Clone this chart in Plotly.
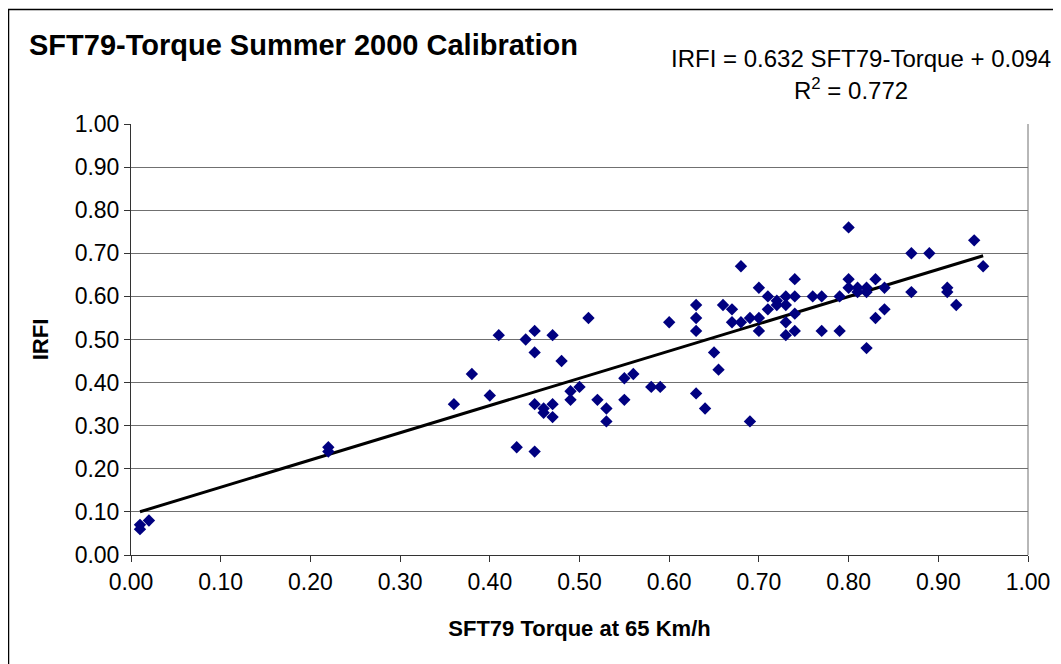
import plotly.graph_objects as go

# SFT79 torque (x) vs IRFI (y)
torque = [
    0.01, 0.01, 0.02, 0.22, 0.22,
    0.36, 0.38, 0.40, 0.41, 0.43, 0.44, 0.45, 0.45, 0.45, 0.45,
    0.46, 0.46, 0.47, 0.47, 0.47, 0.48, 0.49, 0.49, 0.50, 0.51,
    0.52, 0.53, 0.53, 0.55, 0.55, 0.56, 0.58, 0.59, 0.60,
    0.63, 0.63, 0.63, 0.63, 0.64, 0.65, 0.655, 0.66, 0.67, 0.67,
    0.68, 0.68, 0.69, 0.69, 0.70, 0.70, 0.70, 0.71, 0.71, 0.72, 0.72,
    0.73, 0.73, 0.73, 0.73, 0.74, 0.74, 0.74, 0.74,
    0.76, 0.77, 0.77, 0.79, 0.79, 0.80, 0.80, 0.80,
    0.81, 0.81, 0.82, 0.82, 0.82, 0.83, 0.83, 0.84, 0.84,
    0.87, 0.87, 0.89, 0.91, 0.91, 0.92, 0.94, 0.95,
]
irfi = [
    0.06, 0.07, 0.08, 0.25, 0.24,
    0.35, 0.42, 0.37, 0.51, 0.25, 0.50, 0.52, 0.47, 0.35, 0.24,
    0.34, 0.33, 0.51, 0.35, 0.32, 0.45, 0.38, 0.36, 0.39, 0.55,
    0.36, 0.34, 0.31, 0.41, 0.36, 0.42, 0.39, 0.39, 0.54,
    0.58, 0.55, 0.52, 0.375, 0.34, 0.47, 0.43, 0.58, 0.57, 0.54,
    0.67, 0.54, 0.55, 0.31, 0.62, 0.55, 0.52, 0.60, 0.57, 0.59, 0.58,
    0.60, 0.58, 0.54, 0.51, 0.64, 0.60, 0.56, 0.52,
    0.60, 0.60, 0.52, 0.60, 0.52, 0.76, 0.64, 0.62,
    0.62, 0.61, 0.62, 0.61, 0.48, 0.64, 0.55, 0.62, 0.57,
    0.70, 0.61, 0.70, 0.62, 0.61, 0.58, 0.73, 0.67,
]

# linear fit reported on the chart
slope = 0.632
intercept = 0.094
r_squared = 0.772

FONT = "Arial, Liberation Sans, sans-serif"

# the page body has an 8px margin, so the figure is a bit smaller than the window
W, H = 1053, 656
L, R, T, B = 123, 33, 116, 109
PW, PH = W - L - R, H - T - B


def px_x(x):
    """page pixel (window coords) -> paper x"""
    return (x - 8 - L) / PW


def px_y(y):
    """page pixel (window coords) -> paper y"""
    return (H - B - (y - 8)) / PH


fit_x = [min(torque), max(torque)]
fit_y = [slope * v + intercept for v in fit_x]

fig = go.Figure()

fig.add_trace(
    go.Scatter(
        x=fit_x,
        y=fit_y,
        mode="lines",
        line=dict(color="black", width=3),
        hoverinfo="skip",
    )
)

fig.add_trace(
    go.Scatter(
        x=torque,
        y=irfi,
        mode="markers",
        marker=dict(symbol="diamond", size=9.5, color="#000080", line=dict(width=0)),
    )
)

axis_style = dict(
    range=[0, 1],
    dtick=0.1,
    tickformat=".2f",
    ticks="outside",
    ticklen=6,
    tickcolor="#333333",
    showline=True,
    linecolor="#333333",
    linewidth=1,
    zeroline=False,
    tickfont=dict(family=FONT, size=23, color="black"),
    fixedrange=True,
)

fig.update_xaxes(
    **axis_style,
    showgrid=False,
    title=dict(
        text="<b>SFT79 Torque at 65 Km/h</b>",
        font=dict(family=FONT, size=22, color="black"),
        standoff=27,
    ),
)
fig.update_yaxes(
    **axis_style,
    showgrid=True,
    gridcolor="#707070",
    gridwidth=1,
    title=dict(
        text="<b>IRFI</b>",
        font=dict(family=FONT, size=22, color="black"),
        standoff=19,
    ),
)

fig.update_layout(
    width=W,
    height=H,
    autosize=False,
    showlegend=False,
    plot_bgcolor="white",
    paper_bgcolor="white",
    margin=dict(l=L, r=R, t=T, b=B),
    title=dict(
        text="<b>SFT79-Torque Summer 2000 Calibration</b>",
        font=dict(family=FONT, size=29, color="black"),
        x=(29 - 8) / W,
        xanchor="left",
        xref="container",
        y=1 - (45 - 8) / H,
        yanchor="middle",
        yref="container",
    ),
    annotations=[
        dict(
            text=f"IRFI = {slope:.3f} SFT79-Torque + {intercept:.3f}",
            x=px_x(861),
            y=px_y(58),
            xref="paper",
            yref="paper",
            xanchor="center",
            yanchor="middle",
            showarrow=False,
            font=dict(family=FONT, size=24, color="black"),
        ),
        dict(
            text=f"R<sup>2</sup> = {r_squared:.3f}",
            x=px_x(851),
            y=px_y(89),
            xref="paper",
            yref="paper",
            xanchor="center",
            yanchor="middle",
            showarrow=False,
            font=dict(family=FONT, size=24, color="black"),
        ),
    ],
    shapes=[
        # outer chart frame, cropped at the right and bottom
        dict(
            type="rect",
            xref="paper",
            yref="paper",
            x0=px_x(8.5),
            x1=px_x(1090),
            y0=px_y(690),
            y1=px_y(9.5),
            line=dict(color="black", width=1.5),
            layer="below",
        ),
        # right edge of the plot area
        dict(
            type="line",
            xref="paper",
            yref="paper",
            x0=1,
            x1=1,
            y0=0,
            y1=1,
            line=dict(color="#707070", width=1),
            layer="below",
        ),
    ],
)

fig.write_html("out.html")
